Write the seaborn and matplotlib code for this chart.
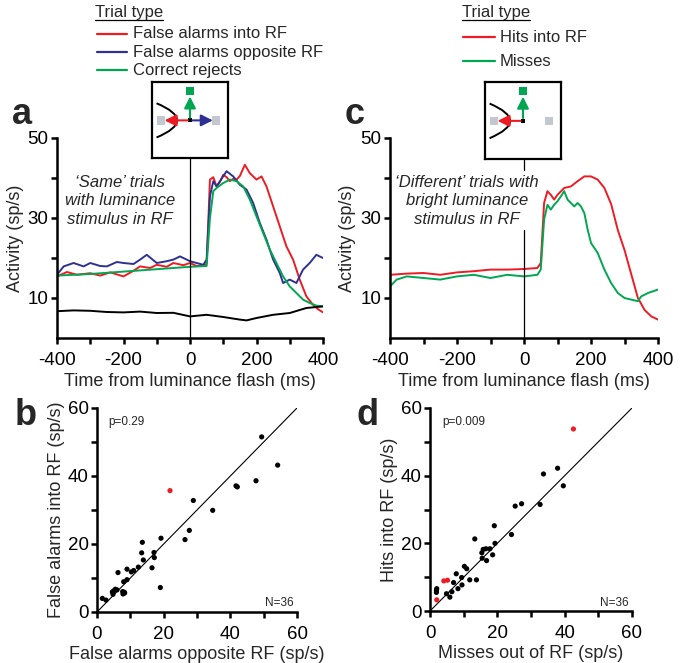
import numpy as np
import pandas as pd
import matplotlib
matplotlib.use("Agg")
import matplotlib.pyplot as plt
import seaborn as sns
from matplotlib.lines import Line2D
from matplotlib.patches import Rectangle, PathPatch
from matplotlib.path import Path

# ---- panel a: 'Same' trials, mean activity (sp/s) vs time (ms) ----
fa_in_t = [-400, -370, -340, -300, -270, -240, -200, -170, -150, -120, -100, -70, -50, -20, 0,
           20, 40, 50, 60, 70, 80, 90, 100, 110, 120, 130, 140, 150, 165, 180, 200, 215, 230,
           250, 270, 290, 310, 330, 350, 370, 385, 400]
fa_in_y = [15.4, 16.5, 15.8, 16.2, 15.6, 16.4, 15.4, 16.8, 17.9, 17.5, 18.3, 17.8, 18.75, 18.2, 18.75,
           18.0, 18.2, 18.5, 39.6, 40.2, 37.9, 39.0, 40.8, 40.2, 39.2, 39.8, 39.6, 40.5, 43.3, 41.2, 39.6,
           40.4, 37.9, 32.9, 27.9, 22.9, 19.6, 14.6, 10.4, 8.3, 7.2, 6.4]

fa_opp_t = [-400, -380, -350, -320, -300, -270, -250, -220, -200, -170, -150, -130, -100, -70, -50,
            -30, 0, 20, 40, 50, 60, 70, 80, 90, 110, 130, 150, 170, 190, 210, 230, 250, 270, 280,
            300, 320, 340, 360, 380, 400]
fa_opp_y = [15.8, 17.9, 18.75, 17.9, 18.75, 18.0, 17.9, 19.0, 18.75, 18.5, 19.6, 20.8, 18.75, 19.2,
            19.6, 20.4, 19.2, 18.75, 18.3, 19.6, 35.4, 39.2, 37.9, 39.2, 41.7, 40.4, 38.3, 37.1, 33.75,
            28.75, 24.6, 19.6, 16.25, 13.75, 14.6, 13.75, 17.1, 18.75, 20.8, 20.0]

cr_t = [-400, -300, -200, -100, 0, 50, 60, 70, 80, 100, 120, 140, 160, 180, 200, 220, 240, 260,
        280, 300, 320, 340, 360, 380, 400]
cr_y = [15.6, 16.0, 16.6, 17.2, 17.8, 18.0, 30.0, 36.7, 37.5, 38.75, 39.6, 39.2, 37.9, 34.6, 30.4,
        26.25, 22.1, 18.75, 15.4, 12.9, 11.25, 9.6, 8.75, 8.1, 7.9]

out_t = [-400, -350, -300, -250, -200, -150, -100, -50, 0, 50, 100, 150, 170, 200, 250, 300, 350, 400]
out_y = [6.7, 6.9, 6.8, 6.5, 6.4, 6.6, 6.25, 6.3, 5.4, 5.8, 5.25, 4.6, 4.4, 5.0, 5.8, 6.25, 7.5, 7.9]

# ---- panel c: 'Different' trials ----
hit_t = [-400, -350, -300, -250, -200, -150, -100, -50, 0, 40, 50, 60, 70, 80, 90, 100, 120, 140,
         160, 180, 200, 220, 240, 260, 280, 300, 320, 340, 360, 380, 400]
hit_y = [15.8, 16.1, 16.25, 15.8, 16.4, 16.7, 17.1, 17.1, 17.25, 17.5, 18.75, 33.75, 36.7, 35.8,
         34.6, 35.8, 37.5, 37.9, 39.2, 40.4, 40.4, 39.6, 37.5, 33.5, 27.0, 22.0, 16.0, 10.0, 7.0,
         5.4, 4.6]

miss_t = [-400, -380, -350, -300, -250, -200, -150, -100, -50, 0, 40, 50, 60, 70, 80, 90, 100, 110,
          120, 130, 140, 150, 160, 170, 180, 190, 200, 220, 240, 260, 280, 300, 320, 340, 350, 370, 400]
miss_y = [12.9, 14.6, 15.4, 15.0, 14.6, 15.4, 15.8, 15.0, 15.8, 15.4, 15.8, 17.1, 29.6, 33.3, 32.1,
          33.3, 34.2, 35.4, 36.7, 34.6, 33.75, 32.9, 33.75, 32.9, 31.25, 27.1, 23.75, 21.25, 17.1,
          13.75, 11.25, 10.0, 9.6, 9.2, 10.4, 11.25, 12.1]

# ---- panel b: per-neuron rates (sp/s), last entry flagged red ----
b_opp = [49.4, 54.2, 47.7, 41.7, 42.1, 28.9, 34.7, 27.7, 26.4, 19.2, 13.6, 17.1, 13.4, 17.2, 13.9,
         16.5, 12.4, 11.0, 10.3, 9.0, 6.3, 9.0, 8.0, 19.0, 7.7, 8.3, 7.8, 8.2, 5.5, 5.0, 4.6, 4.8,
         1.6, 2.7, 6.0, 21.9]
b_into = [51.5, 43.2, 38.6, 37.1, 36.8, 32.8, 29.9, 24.0, 21.3, 21.7, 20.5, 17.5, 17.4, 16.0, 15.3,
          13.0, 13.2, 12.2, 11.8, 12.6, 11.6, 9.5, 8.9, 7.2, 6.0, 5.6, 5.3, 5.8, 6.7, 6.2, 5.9, 5.2,
          4.0, 3.5, 6.5, 35.7]
b_sig = ["n"] * 35 + ["y"]

# ---- panel d ----
d_miss = [37.9, 33.7, 39.6, 27.2, 25.3, 32.7, 24.2, 19.1, 13.3, 19.3, 16.6, 17.8, 15.4, 18.6, 16.8,
          15.5, 10.2, 10.9, 7.8, 9.5, 9.4, 11.8, 13.8, 7.0, 8.3, 6.5, 5.9, 4.9, 1.9, 1.9, 2.0, 15.8,
          42.6, 4.1, 5.2, 2.0]
d_hit = [42.2, 40.5, 37.0, 31.7, 31.0, 31.5, 22.6, 25.2, 21.3, 20.0, 18.4, 18.4, 17.2, 16.6, 14.9,
         15.6, 13.2, 12.5, 11.0, 7.7, 9.9, 9.2, 9.2, 8.4, 6.6, 5.7, 4.1, 5.1, 5.5, 6.1, 6.6, 18.2,
         53.8, 8.9, 9.1, 3.3]
d_sig = ["n"] * 32 + ["y"] * 4

RED = "#ed1c24"
BLUE = "#2e3192"
GREEN = "#00a651"
GREY = "#c3c7cf"

sns.set_theme(style="ticks")
plt.rcParams['font.family'] = ['Liberation Sans', 'DejaVu Sans']

W, H = 683, 663
fig = plt.figure(figsize=(W / 100, H / 100), dpi=100)


def px_box(l, t, r, b):
    return [l / W, 1 - b / H, (r - l) / W, (b - t) / H]


def fx(x):
    return x / W


def fy(y):
    return 1 - y / H


def style_axes(ax):
    sns.despine(ax=ax)
    for s in ("left", "bottom"):
        ax.spines[s].set_linewidth(1.8)
        ax.spines[s].set_color("black")
    ax.tick_params(width=1.8, length=4, direction="out", labelsize=13.5, colors="black")
    ax.tick_params(axis="x", pad=6)
    ax.tick_params(axis="y", pad=2)


def psth_axes(ax):
    style_axes(ax)
    ax.set_xlim(-400, 400)
    ax.set_ylim(0, 50)
    ax.set_xticks(range(-400, 401, 100))
    ax.set_xticklabels(["-400", "", "-200", "", "0", "", "200", "", "400"])
    ax.set_yticks([10, 20, 30, 40, 50])
    ax.set_yticklabels(["10", "", "30", "", "50"])
    ax.set_xlabel("Time from luminance flash (ms)", fontsize=13, labelpad=3)
    ax.set_ylabel("Activity (sp/s)", fontsize=13, labelpad=3)


def scatter_axes(ax, xlabel, ylabel, ptxt):
    style_axes(ax)
    ax.set_xlim(0, 60)
    ax.set_ylim(0, 60)
    ax.set_xticks(range(0, 61, 10))
    ax.set_xticklabels(["0", "", "20", "", "40", "", "60"])
    ax.set_yticks(range(0, 61, 10))
    ax.set_yticklabels(["0", "", "20", "", "40", "", "60"])
    ax.set_xlabel(xlabel, fontsize=13, labelpad=2)
    ax.set_ylabel(ylabel, fontsize=13, labelpad=2)
    ax.axline((0, 0), slope=1, color="black", lw=0.8, zorder=1)
    ax.text(3.5, 56, ptxt, fontsize=8.5, va="center")
    ax.text(59, 2.5, "N=36", fontsize=8.5, ha="right", va="center")


def schematic(rect, blue_arrow):
    iax = fig.add_axes(rect, zorder=10)
    iax.set_xlim(0, 1)
    iax.set_ylim(0, 1)
    iax.set_xticks([])
    iax.set_yticks([])
    iax.set_facecolor("white")
    for s in iax.spines.values():
        s.set_visible(True)
        s.set_linewidth(1.6)
        s.set_color("black")
    iax.add_patch(Rectangle((0.06, 0.44), 0.105, 0.11, color=GREY, lw=0))
    iax.add_patch(Rectangle((0.785, 0.44), 0.105, 0.11, color=GREY, lw=0))
    iax.add_patch(Rectangle((0.447, 0.83), 0.105, 0.11, color=GREEN, lw=0))
    arc = Path([(0.06, 0.72), (0.6, 0.495), (0.06, 0.27)], [Path.MOVETO, Path.CURVE3, Path.CURVE3])
    iax.add_patch(PathPatch(arc, fill=False, lw=1.4, color="black"))
    style = "-|>,head_length=0.5,head_width=0.25"
    head = dict(arrowstyle=style, lw=1.5, mutation_scale=14, shrinkA=0, shrinkB=0)
    iax.annotate("", xy=(0.5, 0.81), xytext=(0.5, 0.53), arrowprops=dict(color=GREEN, **head))
    iax.annotate("", xy=(0.165, 0.495), xytext=(0.47, 0.495), arrowprops=dict(color=RED, **head))
    if blue_arrow:
        iax.annotate("", xy=(0.80, 0.495), xytext=(0.53, 0.495), arrowprops=dict(color=BLUE, **head))
    iax.add_patch(Rectangle((0.475, 0.47), 0.05, 0.05, color="black", lw=0))


# ---- panel a ----
ax_a = fig.add_axes(px_box(57, 138, 323, 338))
df_a = pd.concat([
    pd.DataFrame({"t": fa_in_t, "rate": fa_in_y, "trial": "False alarms into RF"}),
    pd.DataFrame({"t": fa_opp_t, "rate": fa_opp_y, "trial": "False alarms opposite RF"}),
    pd.DataFrame({"t": cr_t, "rate": cr_y, "trial": "Correct rejects"}),
    pd.DataFrame({"t": out_t, "rate": out_y, "trial": "Out of RF"}),
])
pal_a = {"False alarms into RF": RED, "False alarms opposite RF": BLUE,
         "Correct rejects": GREEN, "Out of RF": "black"}
sns.lineplot(data=df_a, x="t", y="rate", hue="trial", palette=pal_a, errorbar=None,
             linewidth=1.4, legend=False, ax=ax_a)
ax_a.axvline(0, ymin=0, ymax=0.9, color="black", lw=0.9)
psth_axes(ax_a)
ax_a.text(-210, 34.3, "\u2018Same\u2019 trials\nwith luminance\nstimulus in RF", ha="center",
          va="center", style="italic", fontsize=12, linespacing=1.3)

# ---- panel c ----
ax_c = fig.add_axes(px_box(390, 138, 658, 338))
df_c = pd.concat([
    pd.DataFrame({"t": hit_t, "rate": hit_y, "trial": "Hits into RF"}),
    pd.DataFrame({"t": miss_t, "rate": miss_y, "trial": "Misses"}),
])
sns.lineplot(data=df_c, x="t", y="rate", hue="trial", palette={"Hits into RF": RED, "Misses": GREEN},
             errorbar=None, linewidth=1.4, legend=False, ax=ax_c)
ax_c.axvline(0, ymin=0, ymax=0.54, color="black", lw=0.9)
ax_c.axvline(0, ymin=0.84, ymax=0.9, color="black", lw=0.9)
psth_axes(ax_c)
ax_c.text(-170, 34.3, "\u2018Different\u2019 trials with\nbright luminance\nstimulus in RF",
          ha="center", va="center", style="italic", fontsize=12, linespacing=1.3)

# ---- panel b ----
ax_b = fig.add_axes(px_box(97, 408, 297, 612))
sns.scatterplot(x=b_opp, y=b_into, hue=b_sig, palette={"n": "black", "y": RED}, s=14,
                edgecolor="none", legend=False, ax=ax_b, zorder=3)
scatter_axes(ax_b, "False alarms opposite RF (sp/s)", "False alarms into RF (sp/s)", "p=0.29")

# ---- panel d ----
ax_d = fig.add_axes(px_box(430, 408, 632, 611))
sns.scatterplot(x=d_miss, y=d_hit, hue=d_sig, palette={"n": "black", "y": RED}, s=14,
                edgecolor="none", legend=False, ax=ax_d, zorder=3)
scatter_axes(ax_d, "Misses out of RF (sp/s)", "Hits into RF (sp/s)", "p=0.009")

# ---- schematics ----
schematic(px_box(152, 82, 228, 158), True)
schematic(px_box(485, 82, 561, 159), False)

# ---- legends (drawn by hand, heading underlined) ----
titles = []
titles.append(fig.text(fx(95), fy(17.5), "Trial type", fontsize=12, va="baseline"))
for yy, col, lab in [(34, RED, "False alarms into RF"), (52, BLUE, "False alarms opposite RF"),
                     (70, GREEN, "Correct rejects")]:
    fig.add_artist(Line2D([fx(97), fx(127)], [fy(yy), fy(yy)], color=col, lw=1.6))
    fig.text(fx(133), fy(yy), lab, fontsize=12, va="center")

titles.append(fig.text(fx(462), fy(17.5), "Trial type", fontsize=12, va="baseline"))
for yy, col, lab in [(37, RED, "Hits into RF"), (61, GREEN, "Misses")]:
    fig.add_artist(Line2D([fx(463), fx(495)], [fy(yy), fy(yy)], color=col, lw=1.6))
    fig.text(fx(500), fy(yy), lab, fontsize=12, va="center")

# panel letters
for x0, y0, letter in [(12, 124, "a"), (345, 124, "c"), (15, 425, "b"), (356, 425, "d")]:
    fig.text(fx(x0), fy(y0), letter, fontsize=26, weight="bold", va="baseline")

fig.canvas.draw()
rend = fig.canvas.get_renderer()
for t in titles:
    bb = t.get_window_extent(rend)
    x0, x1 = bb.x0 / W, bb.x1 / W
    fig.add_artist(Line2D([x0, x1], [fy(19.5), fy(19.5)], color="black", lw=0.9))

fig.savefig("out.png", dpi=100)
